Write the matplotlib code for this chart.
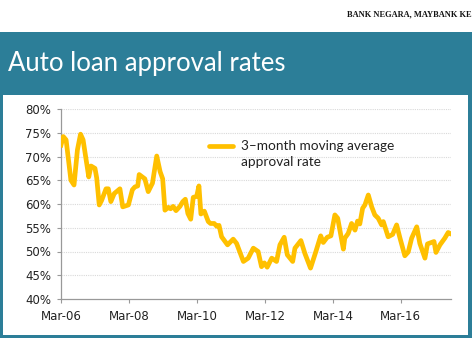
import matplotlib.pyplot as plt
from matplotlib.patches import Rectangle

# months counted from Mar-2006
months = [0, 0.8, 1.8, 3.5, 4.6, 5.8, 6.9, 7.8, 9.8, 10.6, 12, 12.6, 13.5, 14.3,
          15.9, 16.7, 17.6, 18.8, 20.8, 21.8, 23.8, 25.2, 26.1, 27.1, 27.6, 29.6,
          30.8, 32.3, 33.8, 35, 35.9, 36.7, 37.9, 38.7, 39.6, 40.6, 42, 43, 43.9,
          44.8, 45.8, 46.7, 47.9, 48.7, 49.4, 50.6, 52, 52.8, 54.1, 55, 55.8,
          56.7, 58.8, 60.8, 62, 64.4, 66.1, 67.9, 69.6, 70.8, 71.8, 72.8, 74.4,
          76.1, 77.3, 78.8, 79.9, 81.8, 82.6, 84.7, 86.1, 88.1, 90, 91.7, 92.6,
          94, 95.3, 96.7, 97.7, 99.7, 100.2, 101.4, 102.6, 103.8, 104.7, 105.5,
          106.5, 107.3, 108.5, 109.7, 110.8, 112, 113.2, 113.8, 115.5, 117.1,
          118.5, 119.7, 121.4, 122.6, 123.8, 125.6, 126.7, 128.5, 129.4, 131.7,
          132.4, 133.8, 135.5, 136.7, 137.7]
approval = [72.4, 74.2, 73.5, 65.0, 64.0, 71.4, 74.7, 73.5, 65.7, 68.0, 67.5, 65.5,
            59.8, 60.7, 63.2, 63.2, 60.5, 62.2, 63.2, 59.4, 59.8, 63.0, 63.6, 63.8,
            66.2, 65.3, 62.6, 64.4, 70.1, 66.8, 65.3, 58.7, 59.3, 59.0, 59.5, 58.6,
            59.5, 60.5, 61.0, 58.0, 56.8, 61.4, 61.6, 63.8, 57.9, 58.5, 56.3, 55.9,
            55.9, 55.3, 55.5, 53.1, 51.4, 52.6, 51.7, 47.9, 48.6, 50.7, 50.0, 46.8,
            47.6, 46.7, 48.6, 47.9, 51.4, 53.0, 49.3, 47.9, 50.7, 52.3, 49.6, 46.5,
            50.0, 53.3, 51.9, 53.0, 53.3, 57.7, 57.0, 50.5, 52.8, 53.8, 55.9, 54.5,
            56.4, 55.8, 59.1, 59.8, 61.9, 59.4, 57.7, 57.0, 55.6, 56.3, 53.1, 53.6,
            55.6, 52.8, 49.1, 49.9, 52.8, 55.2, 51.7, 48.6, 51.6, 52.1, 49.8, 51.4,
            52.8, 54.0, 53.7]

tick_months = [0, 24, 48, 72, 96, 120]
tick_labels = ["Mar-06", "Mar-08", "Mar-10", "Mar-12", "Mar-14", "Mar-16"]
y_ticks = [40, 45, 50, 55, 60, 65, 70, 75, 80]

teal = "#2c7e98"
gold = "#ffc000"

fig = plt.figure(figsize=(4.72, 3.38), dpi=100)

# header band + framed white box, kept behind the axes
fig.patches.append(Rectangle((0, 0), 1, 1 - 32 / 338, transform=fig.transFigure,
                             facecolor=teal, edgecolor="none", zorder=-10))
fig.patches.append(Rectangle((3 / 472, 3 / 338), 465 / 472, 240 / 338,
                             transform=fig.transFigure, facecolor="white",
                             edgecolor="none", zorder=-9))

fig.text(1.0, 1 - 14 / 338, "BANK NEGARA, MAYBANK KE", ha="right", va="center",
         family="Liberation Serif", weight="bold", fontsize=6, color="#111111")
fig.text(8 / 472, 1 - 64 / 338, "Auto loan approval rates", ha="left", va="center",
         family="Lato", fontsize=18.5, color="white")

ax = fig.add_axes([61 / 472, 1 - 299 / 338, 390 / 472, 190 / 338])
ax.set_facecolor("none")
ax.plot(months, approval, color=gold, lw=3.4, solid_joinstyle="round", zorder=3)

ax.set_xlim(0, 137.7)
ax.set_ylim(40, 80)
ax.set_xticks(tick_months)
ax.set_xticklabels(tick_labels)
ax.set_yticks(y_ticks)
ax.set_yticklabels([f"{v}%" for v in y_ticks])
ax.tick_params(axis="both", colors="#999999", labelcolor="#222222", labelsize=8.5,
               length=3, width=0.8)
ax.tick_params(axis="y", pad=4)
ax.tick_params(axis="x", pad=5)
for lbl in ax.get_xticklabels() + ax.get_yticklabels():
    lbl.set_family("DejaVu Sans")

for y in y_ticks[1:]:
    ax.axhline(y, color="#d9d9d9", lw=0.8, ls=(0, (1, 1)), zorder=1)

for side in ["top", "right"]:
    ax.spines[side].set_visible(False)
for side in ["left", "bottom"]:
    ax.spines[side].set_color("#999999")
    ax.spines[side].set_linewidth(0.9)

# legend drawn by hand
fig.add_artist(plt.Line2D([209 / 472, 233 / 472], [1 - 146 / 338, 1 - 146 / 338],
                          color=gold, lw=3.4, solid_capstyle="round"))
fig.text(241 / 472, 1 - 154 / 338, "3–month moving average\napproval rate",
         ha="left", va="center", family="Lato", fontsize=9.8, color="#222222",
         linespacing=1.5)

plt.savefig("out.png", dpi=100)
